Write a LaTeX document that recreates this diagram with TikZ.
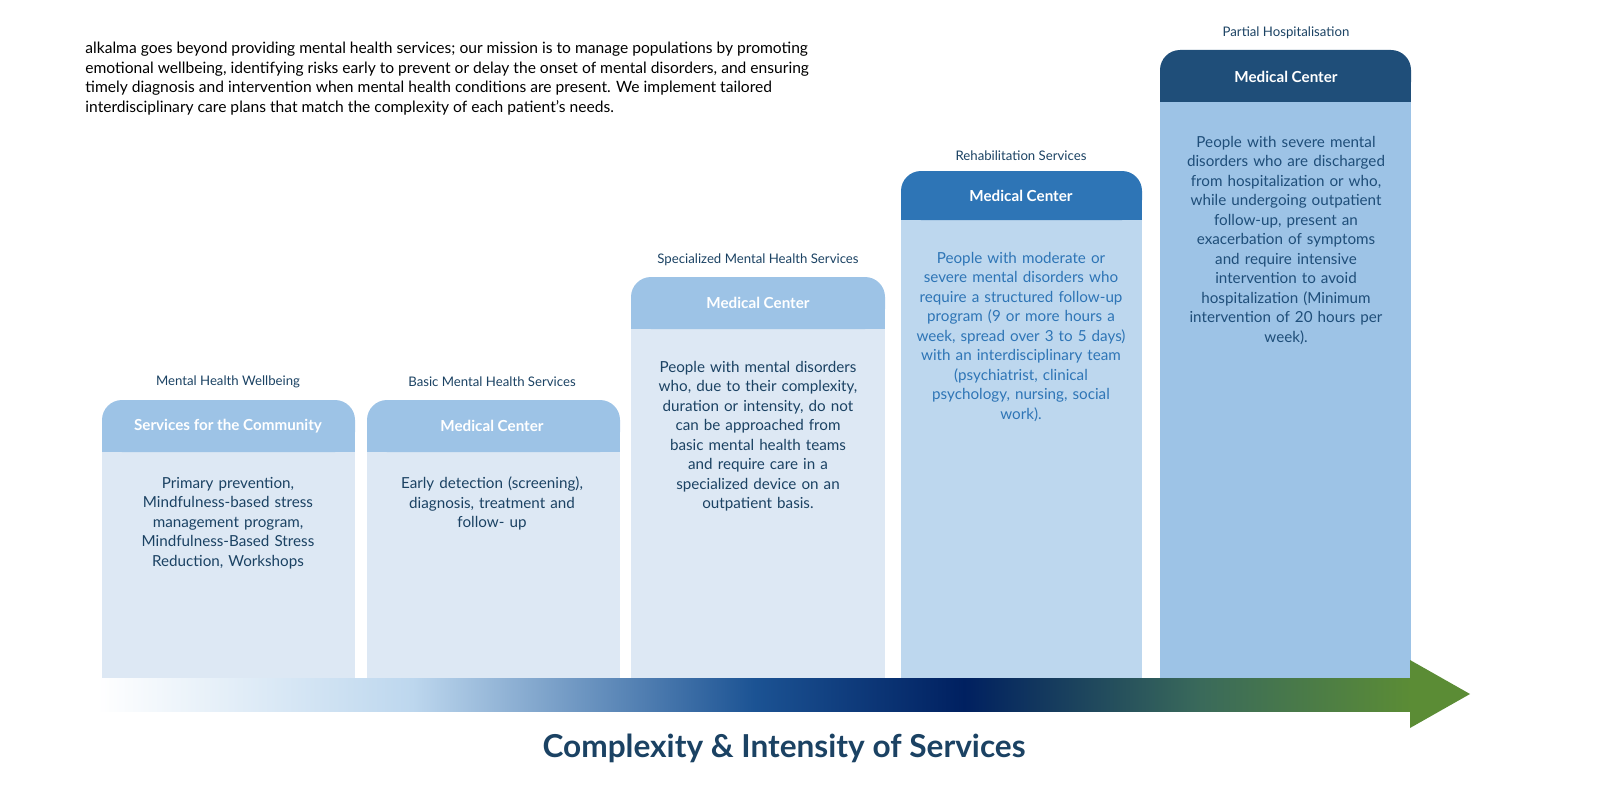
\documentclass[tikz,border=0pt]{standalone}
\usepackage{fontspec}
\setmainfont{Lato}
\usepackage{tikz}
\usetikzlibrary{positioning}

\definecolor{inkteal}{HTML}{1B4263}
\definecolor{paleblue}{HTML}{DDE8F4}
\definecolor{softblue}{HTML}{9DC3E6}
\definecolor{midblue}{HTML}{2E75B6}
\definecolor{lightblue}{HTML}{BDD7EE}
\definecolor{deepblue}{HTML}{1F4E79}
\definecolor{navyblue}{HTML}{002060}
\definecolor{leafgreen}{HTML}{5B8C35}

\pgfdeclarehorizontalshading{complexity}{100bp}{color(0bp)=(white); color(25bp)=(white); color(37bp)=(lightblue); color(50bp)=(midblue!60!navyblue); color(58bp)=(navyblue); color(67bp)=(deepblue!55!leafgreen); color(75bp)=(leafgreen); color(100bp)=(leafgreen)}

\begin{document}
\begin{tikzpicture}[
  x=0.5pt, y=-0.5pt,
  level/.style={font=\fontsize{6.6}{8}\selectfont, text=inkteal},
  head/.style={font=\fontsize{7.6}{9}\selectfont\bfseries, text=white},
  body/.style={font=\fontsize{7.6}{9.75}\selectfont, align=center, text width=112pt, anchor=north},
  tab/.style={rounded corners=10pt}
]
  \useasboundingbox (0,0) rectangle (1620,792);

  % columns
  \fill[paleblue] (102,452) rectangle (355,678);
  \fill[softblue, tab] (102,400) rectangle (355,452);
  \fill[softblue] (102,430) rectangle (355,452);
  \fill[paleblue] (367,452) rectangle (620,678);
  \fill[softblue, tab] (367,400) rectangle (620,452);
  \fill[softblue] (367,430) rectangle (620,452);
  \fill[paleblue] (631,329) rectangle (885,678);
  \fill[softblue, tab] (631,277) rectangle (885,329);
  \fill[softblue] (631,305) rectangle (885,329);
  \fill[lightblue] (901,220) rectangle (1142,678);
  \fill[midblue, tab] (901,171) rectangle (1142,220);
  \fill[midblue] (901,200) rectangle (1142,220);
  \fill[softblue] (1160,102) rectangle (1411,678);
  \fill[deepblue, tab] (1160,50) rectangle (1411,102);
  \fill[deepblue] (1160,80) rectangle (1411,102);

  % arrow
  \begin{pgfinterruptboundingbox}
    \shade[shading=complexity] (97,678) rectangle (1411,711);
  \end{pgfinterruptboundingbox}
  \fill[leafgreen] (1410,660) -- (1470,694) -- (1410,728) -- cycle;

  \node[level] (lvl1) at (228,382) {Mental Health Wellbeing};
  \node[level] (lvl2) at (492,382) {Basic Mental Health Services};
  \node[level] (lvl3) at (758,260) {Specialized Mental Health Services};
  \node[level] (lvl4) at (1021,156) {Rehabilitation Services};
  \node[level] (lvl5) at (1286,33) {Partial Hospitalisation};

  \node[head] (hd1) at (228,426) {Services for the Community};
  \node[head] (hd2) at (492,426) {Medical Center};
  \node[head] (hd3) at (758,303) {Medical Center};
  \node[head] (hd4) at (1021,196) {Medical Center};
  \node[head] (hd5) at (1286,77) {Medical Center};

  \node[body, text=inkteal] (bd1) at (228,470) {Primary prevention,\\ Mindfulness-based stress\\ management program,\\ Mindfulness-Based Stress\\ Reduction, Workshops};
  \node[body, text=inkteal] (bd2) at (492,470) {Early detection (screening),\\ diagnosis, treatment and\\ follow- up};
  \node[body, text=inkteal] (bd3) at (758,354) {People with mental disorders\\ who, due to their complexity,\\ duration or intensity, do not\\ can be approached from\\ basic mental health teams\\ and require care in a\\ specialized device on an\\ outpatient basis.};
  \node[body, text=midblue] (bd4) at (1021,245) {People with moderate or\\ severe mental disorders who\\ require a structured follow-up\\ program (9 or more hours a\\ week, spread over 3 to 5 days)\\ with an interdisciplinary team\\ (psychiatrist, clinical\\ psychology, nursing, social\\ work).};
  \node[body, text=deepblue] (bd5) at (1286,129) {People with severe mental\\ disorders who are discharged\\ from hospitalization or who,\\ while undergoing outpatient\\ follow-up, present an\\ exacerbation of symptoms\\ and require intensive\\ intervention to avoid\\ hospitalization (Minimum\\ intervention of 20 hours per\\ week).};

  \node[anchor=north west, align=left, font=\fontsize{7.8}{9.75}\selectfont, text=black, inner sep=0pt] (intro) at (85,42) {alkalma goes beyond providing mental health services; our mission is to manage populations by promoting\\ emotional wellbeing, identifying risks early to prevent or delay the onset of mental disorders, and ensuring\\ timely diagnosis and intervention when mental health conditions are present. We implement tailored\\ interdisciplinary care plans that match the complexity of each patient’s needs.};

  \node[font=\fontsize{15.8}{18}\selectfont\bfseries, text=inkteal] (title) at (784,748) {Complexity \& Intensity of Services};
\end{tikzpicture}
\end{document}
